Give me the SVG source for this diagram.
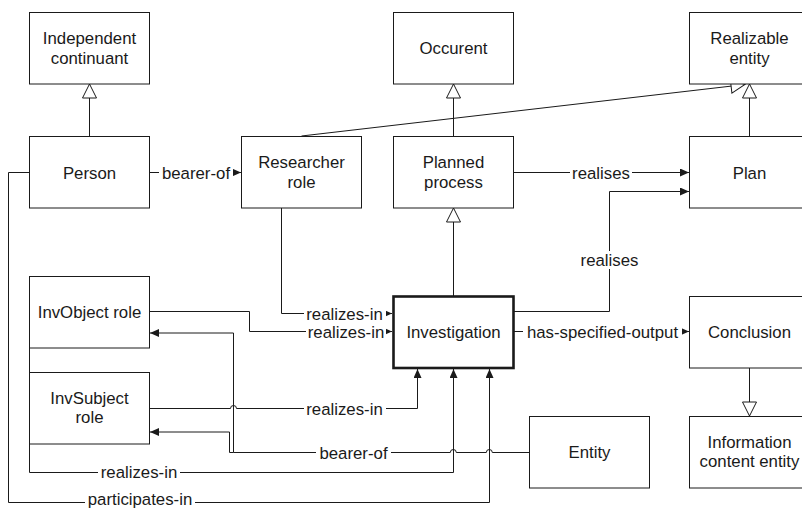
<svg xmlns="http://www.w3.org/2000/svg" width="802" height="509" viewBox="0 0 802 509">
<style>
.box{fill:#fff;stroke:#1a1a1a;stroke-width:1}
.inv{fill:#fff;stroke:#1a1a1a;stroke-width:2.6}
text{font-family:"Liberation Sans",Arial,sans-serif;font-size:16.8px;fill:#1a1a1a;text-anchor:middle}
.ln{fill:none;stroke:#1a1a1a;stroke-width:1}
.bg{fill:#fff}
</style>
<defs>
<marker id="arr" viewBox="0 0 9 8" markerWidth="9" markerHeight="8" refX="9" refY="4" orient="auto" markerUnits="userSpaceOnUse"><path d="M0,0 L9,4 L0,8 z" fill="#1a1a1a"/></marker>
<marker id="tri" viewBox="-1 -1 16 16" markerWidth="16" markerHeight="16" refX="14" refY="7" orient="auto" markerUnits="userSpaceOnUse"><path d="M0,0 L14,7 L0,14 z" fill="#fff" stroke="#1a1a1a" stroke-width="1"/></marker>
</defs>
<g id="connectors">
<path class="ln" d="M89.5,136 V84" marker-end="url(#tri)"/>
<path class="ln" d="M453.5,136 V84" marker-end="url(#tri)"/>
<path class="ln" d="M749.5,136 V84" marker-end="url(#tri)"/>
<path class="ln" d="M301.5,136 L745,84.5" marker-end="url(#tri)"/>
<path class="ln" d="M453.5,296 V208" marker-end="url(#tri)"/>
<path class="ln" d="M749.5,368 V416" marker-end="url(#tri)"/>
<path class="ln" d="M149.5,172.5 H241" marker-end="url(#arr)"/>
<path class="ln" d="M513,172.5 H689" marker-end="url(#arr)"/>
<path class="ln" d="M513,311.5 H609.5 V191.5 H689" marker-end="url(#arr)"/>
<path class="ln" d="M513,331.5 H689" marker-end="url(#arr)"/>
<path class="ln" d="M281.5,208 V313.5 H392" marker-end="url(#arr)"/>
<path class="ln" d="M149.5,311.5 H249.5 V331.5 H392" marker-end="url(#arr)"/>
<path class="ln" d="M529,452.5 H492.3 a3,3 0 0 0 -6,0 H456.3 a3,3 0 0 0 -6,0 H233.5 V333 H150" marker-end="url(#arr)"/>
<path class="ln" d="M233.5,452.5 H229.5 V432 H150" marker-end="url(#arr)"/>
<path class="ln" d="M149.5,408.5 H230.5 a3,3 0 0 1 6,0 H417.5 V369" marker-end="url(#arr)"/>
<path class="ln" d="M29.5,348 V372"/>
<path class="ln" d="M29.5,444 V472.5 H453.5 V369" marker-end="url(#arr)"/>
<path class="ln" d="M29.5,172.5 H8.5 V502.5 H489.5 V369" marker-end="url(#arr)"/>
<rect class="bg" x="159" y="164" width="74" height="17"/>
<text x="196" y="178.5">bearer-of</text>
<rect class="bg" x="570" y="164" width="62" height="17"/>
<text x="601" y="178.5">realises</text>
<rect class="bg" x="578" y="251" width="62" height="18"/>
<text x="609.5" y="266">realises</text>
<rect class="bg" x="523" y="323" width="159" height="17"/>
<text x="602.5" y="337.5">has-specified-output</text>
<rect class="bg" x="304" y="305" width="82" height="17"/>
<text x="344.5" y="319.5">realizes-in</text>
<rect class="bg" x="306" y="323" width="80" height="17"/>
<text x="346" y="337.5">realizes-in</text>
<rect class="bg" x="304" y="400" width="82" height="17"/>
<text x="344.5" y="414.5">realizes-in</text>
<rect class="bg" x="316" y="444" width="75" height="17"/>
<text x="353.5" y="458.5">bearer-of</text>
<rect class="bg" x="98" y="464" width="82" height="17"/>
<text x="139" y="478">realizes-in</text>
<rect class="bg" x="85" y="494" width="110" height="15"/>
<text x="140" y="505" font-size="16.2">participates-in</text>
</g>
<g id="independent-continuant"><rect class="box" x="29.5" y="12.5" width="120" height="71.5"/><text x="89.5" y="44">Independent</text><text x="89.5" y="63.5">continuant</text></g>
<g id="occurent"><rect class="box" x="393.5" y="12.5" width="120" height="71.5"/><text x="453.5" y="54">Occurent</text></g>
<g id="realizable-entity"><rect class="box" x="689.5" y="12.5" width="120" height="71.5"/><text x="749.5" y="44">Realizable</text><text x="749.5" y="63.5">entity</text></g>
<g id="person"><rect class="box" x="29.5" y="136.5" width="120" height="71.5"/><text x="89.5" y="178.5">Person</text></g>
<g id="researcher-role"><rect class="box" x="241.5" y="136.5" width="120" height="71.5"/><text x="301.5" y="168">Researcher</text><text x="301.5" y="187.5">role</text></g>
<g id="planned-process"><rect class="box" x="393.5" y="136.5" width="120" height="71.5"/><text x="453.5" y="168">Planned</text><text x="453.5" y="187.5">process</text></g>
<g id="plan"><rect class="box" x="689.5" y="136.5" width="120" height="71.5"/><text x="749.5" y="178.5">Plan</text></g>
<g id="invobject-role"><rect class="box" x="29.5" y="276.5" width="120" height="71.5"/><text x="89.5" y="317.5">InvObject role</text></g>
<g id="investigation"><rect class="inv" x="393.5" y="296.5" width="120" height="71.5"/><text x="453.5" y="337.5">Investigation</text></g>
<g id="conclusion"><rect class="box" x="689.5" y="296.5" width="120" height="71.5"/><text x="749.5" y="337.5">Conclusion</text></g>
<g id="invsubject-role"><rect class="box" x="29.5" y="372.5" width="120" height="71.5"/><text x="89.5" y="403.5">InvSubject</text><text x="89.5" y="423">role</text></g>
<g id="entity"><rect class="box" x="529.5" y="416.5" width="120" height="71.5"/><text x="589.5" y="458">Entity</text></g>
<g id="information-content-entity"><rect class="box" x="689.5" y="416.5" width="120" height="71.5"/><text x="749.5" y="447.5">Information</text><text x="749.5" y="467">content entity</text></g>
</svg>
